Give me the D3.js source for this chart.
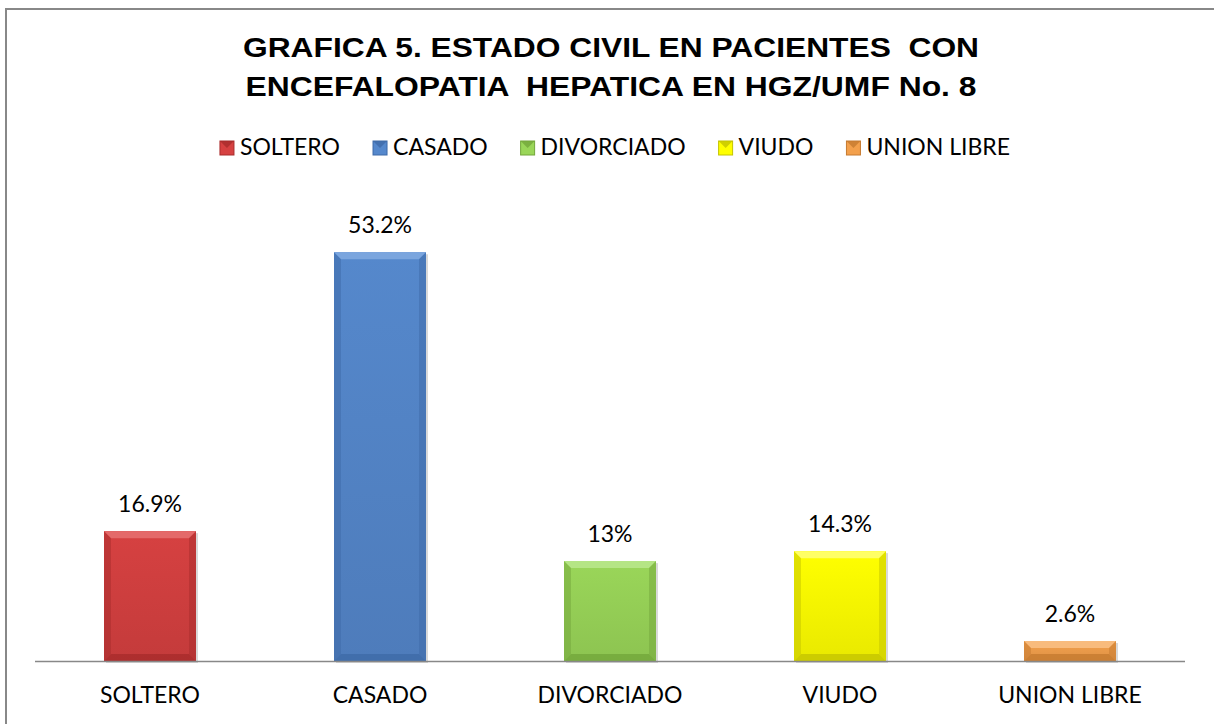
<!DOCTYPE html>
<html>
<head>
<meta charset="utf-8">
<script src="https://cdn.jsdelivr.net/npm/d3@7"></script>
<style>
  body { margin: 0; background: #fff; }
  svg text { font-family: Lato, "Open Sans", sans-serif; fill: #000; }
  .title { font-family: "Liberation Sans", Arial, sans-serif; font-weight: bold; font-size: 27px; white-space: pre; }
</style>
</head>
<body>
<div id="chart"></div>
<script>
// data
var categories = ["SOLTERO", "CASADO", "DIVORCIADO", "VIUDO", "UNION LIBRE"];
var values = [16.9, 53.2, 13, 14.3, 2.6];
var valueLabels = ["16.9%", "53.2%", "13%", "14.3%", "2.6%"];
var titleLines = ["GRAFICA 5. ESTADO CIVIL EN PACIENTES  CON", "ENCEFALOPATIA  HEPATICA EN HGZ/UMF No. 8"];

var colors = ["#d64141", "#5588cc", "#9ad659", "#ffff00", "#f3a04c"];
var darks  = ["#a82c2c", "#3e6aa8", "#73a63b", "#c4c400", "#c67a30"];
var lights = ["#e46a6a", "#7aa5de", "#b5e585", "#ffff66", "#f8bb7d"];

var width = 1214, height = 724;
var baseY = 661, topY = 200;
var fs = "23px";

var svg = d3.select("#chart").append("svg")
	.attr("width", width)
	.attr("height", height);

// frame
svg.append("rect")
	.attr("x", 6).attr("y", 9)
	.attr("width", width + 10).attr("height", height + 10)
	.attr("fill", "none")
	.attr("stroke", "#888")
	.attr("stroke-width", 2);

// title
svg.selectAll(".title")
	.data(titleLines)
	.enter().append("text")
	.attr("class", "title")
	.attr("xml:space", "preserve")
	.attr("x", 611)
	.attr("y", function(d, i) { return 57 + i * 39; })
	.attr("text-anchor", "middle")
	.attr("textLength", function(d, i) { return i == 0 ? 736 : 731; })
	.attr("lengthAdjust", "spacingAndGlyphs")
	.text(function(d) { return d; });

var x = d3.scaleBand()
	.domain(categories)
	.range([35, 1185])
	.paddingInner(0.6)
	.paddingOuter(0.3);

var y = d3.scaleLinear()
	.domain([0, 60])
	.range([baseY, topY]);

// gradients
var defs = svg.append("defs");
categories.forEach(function(c, i) {
	var g = defs.append("linearGradient")
		.attr("id", "grad" + i)
		.attr("x1", 0).attr("y1", 0).attr("x2", 0).attr("y2", 1);
	g.append("stop").attr("offset", "0%").attr("stop-color", colors[i]);
	g.append("stop").attr("offset", "100%").attr("stop-color", d3.color(colors[i]).darker(0.25));
});

var bw = x.bandwidth();
var bev = 7;

var bar = svg.selectAll(".bar")
	.data(values)
	.enter().append("g")
	.attr("class", "bar")
	.attr("transform", function(d, i) { return "translate(" + x(categories[i]) + ",0)"; });

// shadow
bar.append("rect")
	.attr("x", 2).attr("y", function(d) { return y(d) + 2; })
	.attr("width", bw).attr("height", function(d) { return baseY - y(d); })
	.attr("fill", "#000").attr("opacity", 0.15);

bar.append("rect")
	.attr("x", 0).attr("y", function(d) { return y(d); })
	.attr("width", bw).attr("height", function(d) { return baseY - y(d); })
	.attr("fill", function(d, i) { return "url(#grad" + i + ")"; });

// bevel: top light, sides/bottom dark
bar.append("path")
	.attr("fill", function(d, i) { return lights[i]; })
	.attr("d", function(d) {
		var t = y(d), b = Math.min(bev, (baseY - t) / 2);
		return "M0," + t + "H" + bw + "L" + (bw - b) + "," + (t + b) + "H" + b + "Z";
	});
bar.append("path")
	.attr("fill", function(d, i) { return darks[i]; })
	.attr("opacity", 0.5)
	.attr("d", function(d) {
		var t = y(d), b = Math.min(bev, (baseY - t) / 2);
		return "M0," + t + "L" + b + "," + (t + b) + "V" + (baseY - b) + "L0," + baseY + "Z" +
			"M" + bw + "," + t + "L" + (bw - b) + "," + (t + b) + "V" + (baseY - b) + "L" + bw + "," + baseY + "Z";
	});
bar.append("path")
	.attr("fill", function(d, i) { return darks[i]; })
	.attr("opacity", 0.8)
	.attr("d", function(d) {
		var t = y(d), b = Math.min(bev, (baseY - t) / 2);
		return "M0," + baseY + "L" + b + "," + (baseY - b) + "H" + (bw - b) + "L" + bw + "," + baseY + "Z";
	});

// value labels
bar.append("text")
	.attr("x", bw / 2)
	.attr("y", function(d) { return y(d) - 19; })
	.attr("text-anchor", "middle")
	.style("font-size", fs)
	.text(function(d, i) { return valueLabels[i]; });

// axis line
svg.append("line")
	.attr("x1", 35).attr("x2", 1185)
	.attr("y1", baseY + 0.5).attr("y2", baseY + 0.5)
	.attr("stroke", "#888").attr("stroke-width", 1.5);

// category labels
svg.selectAll(".cat")
	.data(categories)
	.enter().append("text")
	.attr("class", "cat")
	.attr("x", function(d) { return x(d) + bw / 2; })
	.attr("y", 703)
	.attr("text-anchor", "middle")
	.style("font-size", fs)
	.text(function(d) { return d; });

// legend
var leg = svg.selectAll(".leg")
	.data(categories)
	.enter().append("g")
	.attr("class", "leg");
leg.append("rect")
	.attr("y", 141)
	.attr("width", 14).attr("height", 14)
	.attr("fill", function(d, i) { return colors[i]; })
	.attr("stroke", function(d, i) { return darks[i]; })
	.attr("stroke-width", 1);
leg.append("path")
	.attr("d", "M0,141H14L7,148Z")
	.attr("fill", function(d, i) { return darks[i]; })
	.attr("opacity", 0.8);
leg.append("text")
	.attr("x", 20)
	.attr("y", 155)
	.style("font-size", fs)
	.text(function(d) { return d; });

var gap = 33, pos = [], total = 0;
leg.each(function(d, i) {
	var w = 20 + d3.select(this).select("text").node().getComputedTextLength();
	pos.push(total);
	total += w + (i < categories.length - 1 ? gap : 0);
});
var start = 615 - total / 2;
leg.attr("transform", function(d, i) { return "translate(" + (start + pos[i]) + ",0)"; });
</script>
</body>
</html>
